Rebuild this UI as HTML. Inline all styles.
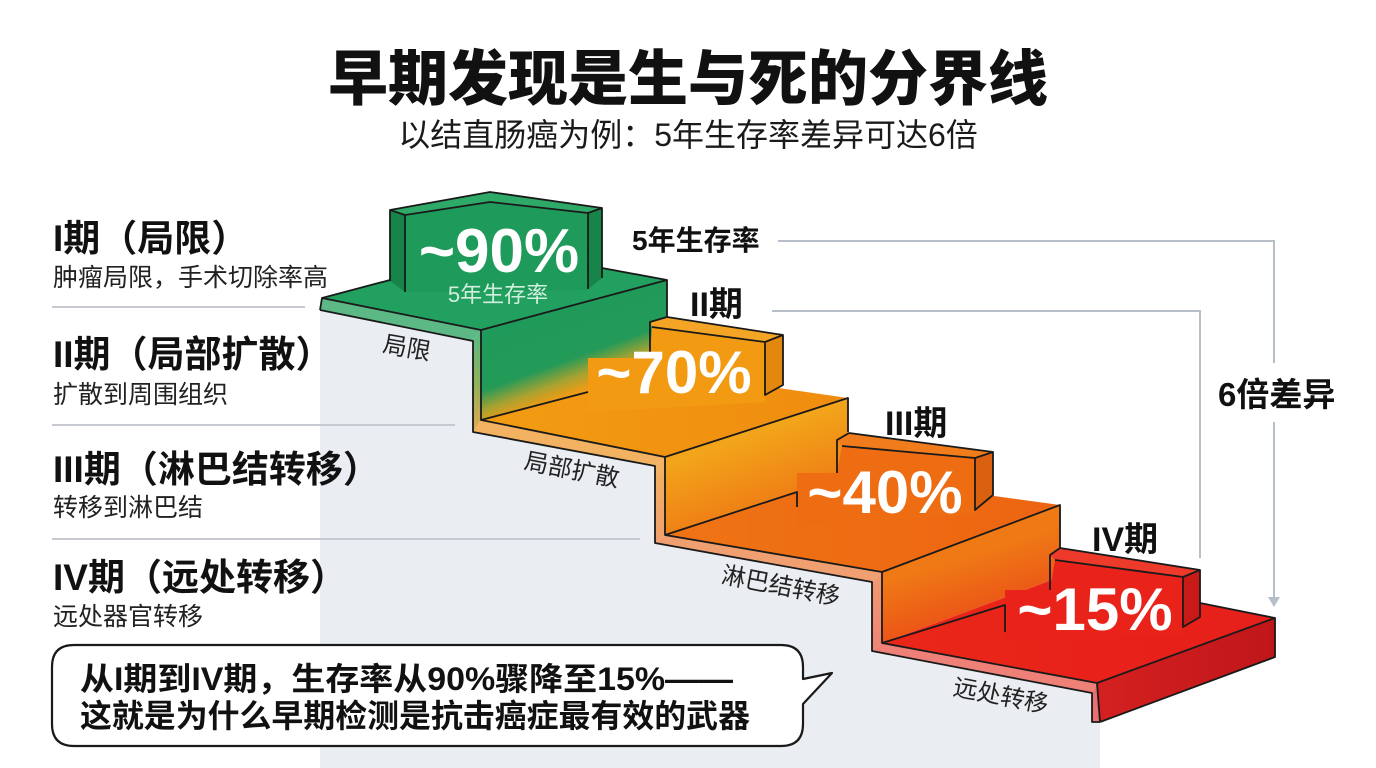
<!DOCTYPE html>
<html><head><meta charset="utf-8"><style>
html,body{margin:0;padding:0;background:#fff;}
svg{display:block;}
text{font-family:"Liberation Sans","Noto Sans CJK SC",sans-serif;}
</style></head><body>
<svg width="1376" height="768" viewBox="0 0 1376 768" xmlns="http://www.w3.org/2000/svg">
<defs>
<linearGradient id="gR2" gradientUnits="userSpaceOnUse" x1="520" y1="300" x2="560" y2="410">
<stop offset="0" stop-color="#1f9a5a"/><stop offset="0.62" stop-color="#239a58"/><stop offset="0.78" stop-color="#a9a230"/><stop offset="0.9" stop-color="#ec9c16"/><stop offset="1" stop-color="#f29a12"/>
</linearGradient>
<linearGradient id="gR3" gradientUnits="userSpaceOnUse" x1="740" y1="440" x2="770" y2="525">
<stop offset="0" stop-color="#f2a41a"/><stop offset="1" stop-color="#ee7414"/>
</linearGradient>
<linearGradient id="gR4" gradientUnits="userSpaceOnUse" x1="950" y1="560" x2="975" y2="640">
<stop offset="0" stop-color="#ef7a15"/><stop offset="1" stop-color="#ea4618"/>
</linearGradient>
<linearGradient id="gT2" gradientUnits="userSpaceOnUse" x1="480" y1="0" x2="850" y2="0">
<stop offset="0" stop-color="#f29c12"/><stop offset="1" stop-color="#f08c10"/>
</linearGradient>
<linearGradient id="gT3" gradientUnits="userSpaceOnUse" x1="665" y1="0" x2="1060" y2="0">
<stop offset="0" stop-color="#ef7414"/><stop offset="1" stop-color="#ed6412"/>
</linearGradient>
<linearGradient id="gT4" gradientUnits="userSpaceOnUse" x1="882" y1="0" x2="1275" y2="0">
<stop offset="0" stop-color="#ea2619"/><stop offset="1" stop-color="#e61f1a"/>
</linearGradient>
<linearGradient id="gF4" gradientUnits="userSpaceOnUse" x1="1100" y1="0" x2="1275" y2="0">
<stop offset="0" stop-color="#d42020"/><stop offset="1" stop-color="#c0161a"/>
</linearGradient>
<linearGradient id="gL2" gradientUnits="userSpaceOnUse" x1="0" y1="335" x2="0" y2="430">
<stop offset="0" stop-color="#5cb985"/><stop offset="0.5" stop-color="#8fb35c"/><stop offset="1" stop-color="#e0a850"/>
</linearGradient>
<linearGradient id="gL4" gradientUnits="userSpaceOnUse" x1="0" y1="460" x2="0" y2="545">
<stop offset="0" stop-color="#f3b462"/><stop offset="1" stop-color="#f09e6c"/>
</linearGradient>
<linearGradient id="gL6" gradientUnits="userSpaceOnUse" x1="0" y1="575" x2="0" y2="650">
<stop offset="0" stop-color="#f09a70"/><stop offset="1" stop-color="#ee8478"/>
</linearGradient>
</defs>

<rect x="0" y="0" width="1376" height="768" fill="#ffffff"/>

<polygon points="320,310 473,341 473,432 655,466 655,543 872,582 872,651 1092,693 1092,722 1100,722 1100,768 320,768" fill="#eaedf1"/>

<line x1="52" y1="307" x2="305" y2="307" stroke="#c6cad0" stroke-width="2"/>
<line x1="52" y1="425" x2="455" y2="425" stroke="#c6cad0" stroke-width="2"/>
<line x1="52" y1="539" x2="640" y2="539" stroke="#c6cad0" stroke-width="2"/>

<g stroke="#b6bec8" stroke-width="2" fill="none">
<polyline points="778,241 1274,241 1274,363"/>
<polyline points="1274,422 1274,600"/>
<polyline points="772,311 1200,311 1200,558"/>
</g>
<polygon points="1268,597 1280,597 1274,607" fill="#b6bec8"/>

<polygon points="320,310 322,298 481,330 473,341" fill="#5cb985"/>
<polygon points="473,341 481,330 481,420 473,432" fill="url(#gL2)"/>
<polygon points="473,432 481,420 665,457 655,466" fill="#f2b262"/>
<polygon points="655,466 665,457 665,535 655,543" fill="url(#gL4)"/>
<polygon points="655,543 665,535 882,572 872,582" fill="#f0a070"/>
<polygon points="872,582 882,572 882,643 872,651" fill="url(#gL6)"/>
<polygon points="872,651 882,643 1097,683 1092,693" fill="#ef8078"/>
<polygon points="1092,693 1097,683 1100,722 1092,722" fill="#e87070"/>

<polygon points="481,330 667,280 667,372 481,420" fill="url(#gR2)"/>
<polygon points="665,457 848,398 848,476 665,535" fill="url(#gR3)"/>
<polygon points="882,572 1060,505 1060,577 882,643" fill="url(#gR4)"/>

<polygon points="322,298 481,330 667,280 509,249" fill="#22a060"/>
<polygon points="481,420 665,457 848,398 667,372" fill="url(#gT2)"/>
<polygon points="665,535 882,572 1060,505 848,476" fill="url(#gT3)"/>
<polygon points="882,643 1097,683 1275,618 1060,577" fill="url(#gT4)"/>
<polygon points="1097,683 1275,618 1275,657 1100,722" fill="url(#gF4)"/>

<polygon points="405,215 490,202 588,213 588,290 405,292" fill="#1e9a5a"/>
<polygon points="390,210 490,192 602,208 588,213 490,202 405,215" fill="#2fa968"/>
<polygon points="390,210 405,215 405,292 390,281" fill="#17844a"/>
<polygon points="588,213 602,208 602,278 588,289" fill="#17844a"/>

<polygon points="652,327 765,342 765,402 588,412 588,358 650,358" fill="#f29a12"/>
<polygon points="650,322 667,317 783,335 765,342 652,327" fill="#f4a526"/>
<polygon points="765,342 783,335 783,385 765,395" fill="#e2880e"/>

<polygon points="842,446 975,458 975,515 797,525 797,473 837,473" fill="#ee6c12"/>
<polygon points="837,440 849,433 993,452 975,458 842,446" fill="#f07c1c"/>
<polygon points="975,458 993,452 993,495 975,510" fill="#d9600e"/>

<polygon points="1055,560 1183,577 1183,635 1005,640 1005,590 1050,590" fill="#e9231a"/>
<polygon points="1050,555 1060,548 1200,570 1183,577 1055,560" fill="#ee3a2a"/>
<polygon points="1183,577 1200,570 1200,617 1183,627" fill="#c81a16"/>

<g stroke="#1a1a1a" stroke-width="1.8" fill="none" stroke-linejoin="round">
<polyline points="320,310 473,341 473,432 655,466 655,543 872,582 872,651 1092,693 1092,722 1100,722"/>
<polyline points="320,310 322,298 481,330 481,420 665,457 665,535 882,572 882,643 1097,683 1100,722"/>
<polyline points="322,298 390,280"/>
<polyline points="602,268 667,280 481,330"/>
<polyline points="667,280 667,317"/>
<polyline points="481,420 588,392"/>
<polyline points="390,281 390,210 490,192 602,208 602,278"/>
<polyline points="405,292 405,215 490,202 588,213 588,289"/>
<polyline points="390,210 405,215"/>
<polyline points="588,213 602,208"/>
<polyline points="650,358 650,322 667,317 783,335 783,385 765,395 765,342 652,327"/>
<polyline points="765,342 783,335"/>
<polyline points="665,457 848,398 848,432"/>
<polyline points="665,535 797,492 797,507"/>
<polyline points="837,473 837,440 849,433 993,452 993,495 975,510 975,458 842,446"/>
<polyline points="975,458 993,452"/>
<polyline points="882,572 1060,505 1060,548"/>
<polyline points="882,643 1005,605 1005,632"/>
<polyline points="1050,590 1050,555 1060,548 1200,570 1200,617 1183,627 1183,577 1055,560"/>
<polyline points="1183,577 1200,570"/>
<polyline points="1200,603 1275,618 1097,683"/>
<polyline points="1275,618 1275,657 1100,722"/>
</g>

<text x="688" y="100" font-size="60" font-weight="900" text-anchor="middle" fill="#111">早期发现是生与死的分界线</text>
<text x="688" y="146" font-size="32" text-anchor="middle" fill="#1a1a1a">以结直肠癌为例：5年生存率差异可达6倍</text>

<text x="53" y="251" font-size="37" font-weight="700" fill="#111">I期（局限）</text>
<text x="53" y="286" font-size="25" fill="#222">肿瘤局限，手术切除率高</text>
<text x="53" y="367" font-size="37" font-weight="700" fill="#111">II期（局部扩散）</text>
<text x="53" y="403" font-size="25" fill="#222">扩散到周围组织</text>
<text x="53" y="482" font-size="37" font-weight="700" fill="#111">III期（淋巴结转移）</text>
<text x="53" y="516" font-size="25" fill="#222">转移到淋巴结</text>
<text x="53" y="590" font-size="37" font-weight="700" fill="#111">IV期（远处转移）</text>
<text x="53" y="625" font-size="25" fill="#222">远处器官转移</text>

<text x="632" y="250" font-size="28" font-weight="700" fill="#111">5年生存率</text>
<text x="690" y="316" font-size="34" font-weight="700" fill="#111">II期</text>
<text x="885" y="435" font-size="34" font-weight="700" fill="#111">III期</text>
<text x="1092" y="551" font-size="34" font-weight="700" fill="#111">IV期</text>
<text x="1218" y="406" font-size="33" font-weight="700" fill="#111">6倍差异</text>

<text x="499" y="272" font-size="62" font-weight="700" text-anchor="middle" fill="#ffffff">~90%</text>
<text x="498" y="302" font-size="22" text-anchor="middle" fill="#d2efde">5年生存率</text>
<text x="674" y="393" font-size="60" font-weight="700" text-anchor="middle" fill="#ffffff">~70%</text>
<text x="885" y="513" font-size="60" font-weight="700" text-anchor="middle" fill="#ffffff">~40%</text>
<text x="1095" y="630" font-size="60" font-weight="700" text-anchor="middle" fill="#ffffff">~15%</text>

<text x="407" y="356" font-size="24" text-anchor="middle" fill="#222" transform="rotate(10 407 347)">局限</text>
<text x="572" y="478" font-size="24" text-anchor="middle" fill="#222" transform="rotate(11 572 469)">局部扩散</text>
<text x="781" y="594" font-size="24" text-anchor="middle" fill="#222" transform="rotate(11 781 585)">淋巴结转移</text>
<text x="1001" y="704" font-size="24" text-anchor="middle" fill="#222" transform="rotate(11 1001 695)">远处转移</text>

<path d="M74,645 H781 Q803,645 803,667 V679 L832,673 L803,704 V724 Q803,746 781,746 H74 Q52,746 52,724 V667 Q52,645 74,645 Z" fill="#ffffff" stroke="#1a1a1a" stroke-width="2.2" stroke-linejoin="round"/>
<text x="80" y="690" font-size="32" font-weight="700" fill="#111" textLength="653" lengthAdjust="spacingAndGlyphs">从I期到IV期，生存率从90%骤降至15%——</text>
<text x="80" y="727" font-size="32" font-weight="700" fill="#111" textLength="670" lengthAdjust="spacingAndGlyphs">这就是为什么早期检测是抗击癌症最有效的武器</text>
</svg>
</body></html>
